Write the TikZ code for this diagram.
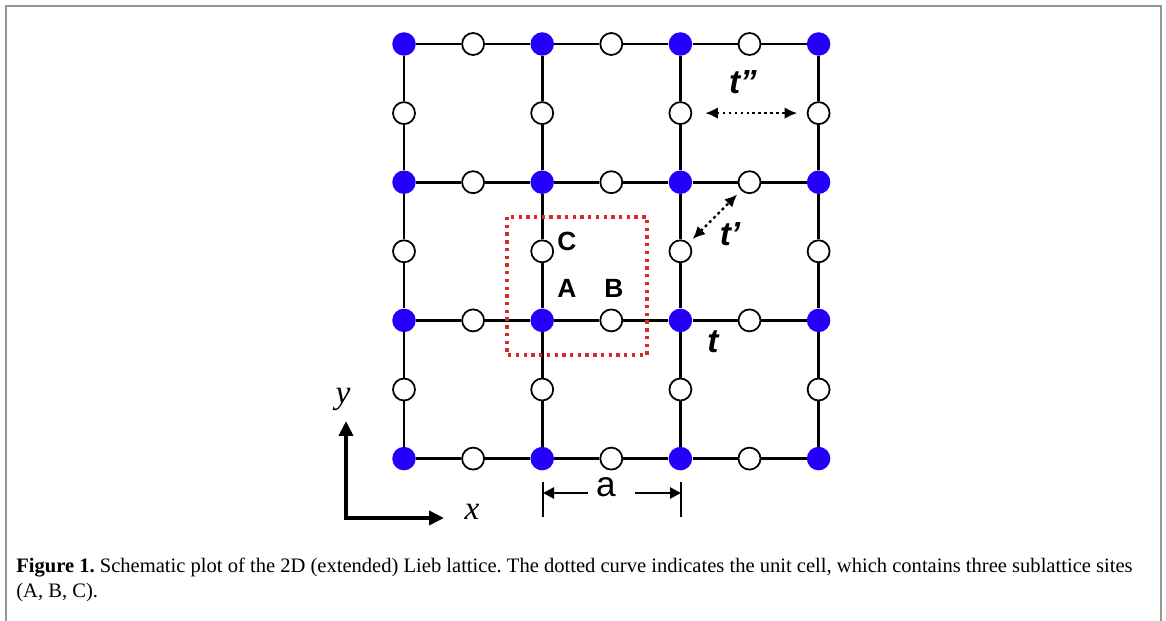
\documentclass[tikz,border=0pt]{standalone}
\usepackage{fontspec}
\setmainfont{Liberation Serif}
\setsansfont{Liberation Sans}
\usepackage{tikz}
\usetikzlibrary{calc, positioning, arrows.meta}
\definecolor{siteblue}{RGB}{36,0,250}
\definecolor{cellred}{RGB}{212,44,36}
\definecolor{framegray}{RGB}{150,150,150}
\frenchspacing

\begin{document}
\begin{tikzpicture}[
  x=0.02cm, y=-0.02cm,
  hub/.style={circle, fill=siteblue, minimum size=0.47cm, inner sep=0pt},
  site/.style={circle, draw=black, fill=white, line width=1pt, minimum size=0.44cm, inner sep=0pt},
  bond/.style={draw=black, line width=1.55pt},
  hop/.style={draw=black, line width=1.3pt, dash pattern=on 1.6pt off 1.8pt,
    {Latex[length=2.5mm, width=2.3mm]}-{Latex[length=2.5mm, width=2.3mm]}},
  cell/.style={draw=cellred, line width=1.9pt, dash pattern=on 1.9pt off 2.5pt},
  lab/.style={font=\sffamily\bfseries\fontsize{15}{15}\selectfont, inner sep=0pt},
  hoplab/.style={font=\sffamily\bfseries\itshape\fontsize{19}{19}\selectfont, inner sep=0pt},
  axis/.style={draw=black, line width=2.4pt, {Triangle[length=3mm, width=2.8mm]}-{Triangle[length=3mm, width=2.8mm]}},
  axlab/.style={font=\itshape\fontsize{19}{19}\selectfont, inner sep=0pt},
  tick/.style={draw=black, line width=1.5pt},
  dim/.style={draw=black, line width=1.5pt, -{Triangle[length=2.2mm, width=2.2mm]}},
  capt/.style={font=\fontsize{11.7}{14.2}\selectfont, align=left, inner sep=0pt}
]
\useasboundingbox (0,0) rectangle (1166,621);

% frame, open at the bottom
\draw[framegray, line width=1.1pt] (6,640) |- (1161,6) -- (1161,640);

\def\dd{138.2}
\def\xo{404}
\def\yo{44}

% corner sites (A)
\foreach \i in {0,...,3} {
  \foreach \j in {0,...,3} {
    \node[hub] (A\i\j) at (\xo+\i*\dd, \yo+\j*\dd) {};
  }
}
% edge sites (B horizontal, C vertical)
\foreach \i in {0,1,2} {
  \foreach \j in {0,...,3} {
    \node[site] (B\i\j) at (\xo+\i*\dd+0.5*\dd, \yo+\j*\dd) {};
  }
}
\foreach \i in {0,...,3} {
  \foreach \j in {0,1,2} {
    \node[site] (C\i\j) at (\xo+\i*\dd, \yo+\j*\dd+0.5*\dd) {};
  }
}

% bonds
\foreach \i [evaluate=\i as \k using int(\i+1)] in {0,1,2} {
  \foreach \j in {0,...,3} {
    \draw[bond] (A\i\j) -- (B\i\j) -- (A\k\j);
    \draw[bond] (A\j\i) -- (C\j\i) -- (A\j\k);
  }
}

% unit cell
\draw[cell] (507,217) rectangle (647,355);

\node[lab] (labC) at (567,241) {C};
\node[lab] (labA) at (567,288) {A};
\node[lab] (labB) at (614,288) {B};

% hoppings
\draw[hop, shorten <=2.6mm, shorten >=1.9mm] (C20) -- (C30);
\draw[hop, shorten <=1.1mm, shorten >=1.1mm] (C21) -- (B21);
\node[hoplab] (t3) at (743,82) {t”};
\node[hoplab] (t2) at (730,234) {t’};
\node[hoplab] (t1) at (713,342) {t};

% axes
\coordinate (O) at (346,518);
\coordinate (Ytip) at (346,421);
\coordinate (Xtip) at (444,518);
\draw[axis] (Ytip) -- (O) -- (Xtip);
\node[axlab] (ylab) at (343,399) {y};
\node[axlab] (xlab) at (472,512) {x};

% lattice constant
\coordinate (barL) at (543,493);
\coordinate (barR) at (681,493);
\coordinate (dimL) at (588,493);
\coordinate (dimR) at (635,493);
\draw[tick] (543,482) -- (543,517);
\draw[tick] (681,482) -- (681,517);
\draw[dim] (dimL) -- (barL);
\draw[dim] (dimR) -- (barR);
\node[font=\sffamily\fontsize{20}{20}\selectfont, inner sep=0pt] (lenA) at (606,487) {a};

% caption
\node[capt, anchor=north west] (cap) at (16,558) {\textbf{Figure 1.} Schematic plot of the 2D (extended) Lieb lattice. The dotted curve indicates the unit cell, which contains three sublattice sites\\(A, B, C).};

\end{tikzpicture}
\end{document}
